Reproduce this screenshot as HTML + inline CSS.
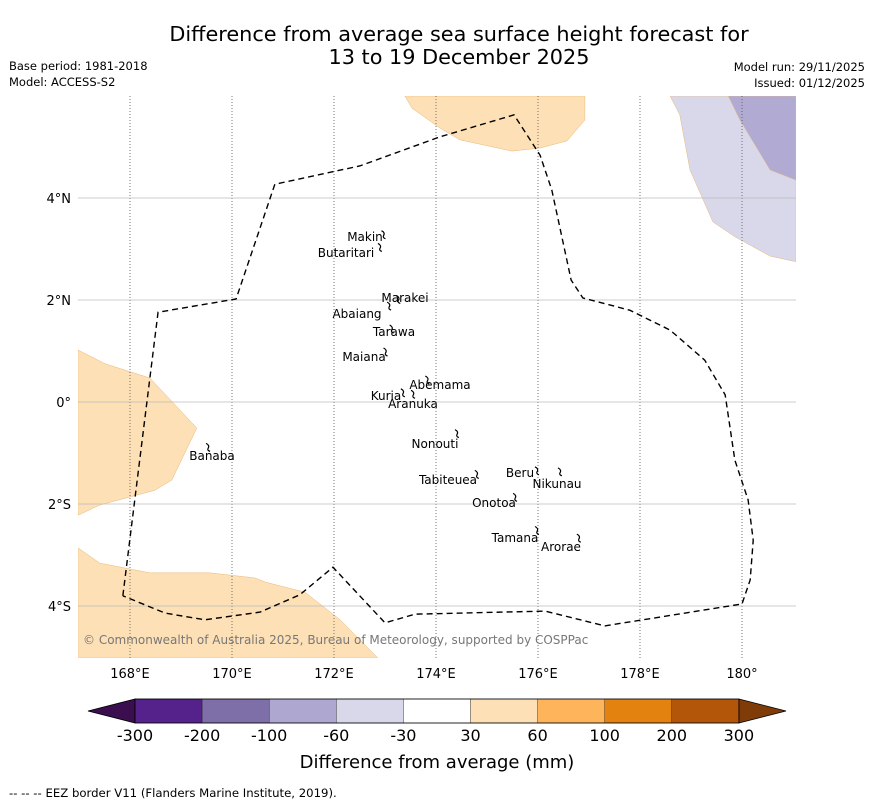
<!DOCTYPE html>
<html><head><meta charset="utf-8"><style>
body{margin:0;background:#fff;font-family:"Liberation Sans","DejaVu Sans",sans-serif;}
</style></head><body>
<svg id="s" width="873" height="804" xmlns="http://www.w3.org/2000/svg" font-family="DejaVu Sans, Liberation Sans, sans-serif">
<rect width="873" height="804" fill="#fff"/>
<text x="459" y="41" font-size="20.8" text-anchor="middle">Difference from average sea surface height forecast for</text>
<text x="459" y="64" font-size="20.8" text-anchor="middle">13 to 19 December 2025</text>
<text x="9" y="70" font-size="11.5">Base period: 1981-2018</text>
<text x="9" y="86" font-size="11.5">Model: ACCESS-S2</text>
<text x="865" y="71" font-size="11.5" text-anchor="end">Model run: 29/11/2025</text>
<text x="865" y="87" font-size="11.5" text-anchor="end">Issued: 01/12/2025</text>
<defs><clipPath id="cp"><rect x="78" y="96" width="718" height="562"/></clipPath></defs>
<g id="map" clip-path="url(#cp)"></g>
<g id="ax"></g>
<g id="cb"></g>
<text x="9" y="797" font-size="11.7">--  --  -- EEZ border V11 (Flanders Marine Institute, 2019).</text>
</svg>
<script>
const lonTicks=[168,170,172,174,176,178,180];
const latTicks=[4,2,0,-2,-4];
const lonLabels=["168°E","170°E","172°E","174°E","176°E","178°E","180°"];
const latLabels=["4°N","2°N","0°","2°S","4°S"];
const eezLon=[167.86,168.55,170.08,170.84,172.51,174.08,175.53,176.04,176.27,176.65,176.88,177.8,178.59,179.27,179.67,179.86,180.12,180.22,180.16,180.0,177.31,176.14,173.59,173.0,171.98,171.33,170.55,169.47,168.69,167.86];
const eezLat=[-3.8,1.76,2.02,4.27,4.63,5.2,5.63,4.84,4.16,2.39,2.04,1.8,1.41,0.82,0.14,-1.14,-1.92,-2.71,-3.49,-3.96,-4.39,-4.1,-4.16,-4.33,-3.24,-3.78,-4.12,-4.27,-4.14,-3.8];
const orangeLeftLon=[166.98,167.51,168.39,169.31,168.82,168.49,167.41,166.98];
const orangeLeftLat=[1.02,0.75,0.47,-0.51,-1.53,-1.73,-2.02,-2.22];
const orangeBotLon=[166.98,167.41,168.39,169.57,170.45,170.65,171.43,172.12,172.86,172.86,166.98];
const orangeBotLat=[-2.86,-3.16,-3.35,-3.35,-3.45,-3.53,-3.73,-4.27,-5.02,-5.02,-5.02];
const orangeTopLon=[173.39,173.53,174.08,174.47,175.49,176.04,176.57,176.92,176.92];
const orangeTopLat=[6.0,5.76,5.37,5.14,4.92,4.98,5.12,5.53,6.0];
const lilacLon=[178.59,178.78,178.98,179.43,179.86,180.55,181.06,181.06];
const lilacLat=[6.0,5.63,4.55,3.53,3.24,2.86,2.75,6.0];
const purpleLon=[179.73,179.96,180.55,181.06,181.06];
const purpleLat=[6.0,5.53,4.55,4.35,6.0];
const islands=["Makin","Butaritari","Marakei","Abaiang","Tarawa","Maiana","Abemama","Kuria","Aranuka","Nonouti","Banaba","Beru","Nikunau","Tabiteuea","Onotoa","Tamana","Arorae"];
const islandLon=[172.99,172.92,173.28,173.1,173.15,173.03,173.85,173.37,173.57,174.43,169.55,176.0,176.45,174.82,175.57,176.0,176.82];
const islandLat=[3.3,3.05,2.03,1.9,1.45,1.0,0.45,0.2,0.17,-0.6,-0.87,-1.33,-1.35,-1.4,-1.85,-2.5,-2.65];
const labelX=[365,346,405,357,394,364,440,386,413,435,212,520,557,448,494,515,561];
const labelY=[241,257,302,318,336,361,389,400,408,448,460,477,488,484,507,542,551];
const cbColors=["#3b0f4f","#54228a","#7f6fa9","#aea7d0","#d8d8ea","#ffffff","#fde0b6","#fdb45b","#e4820f","#b3560a","#7f3c08"];
const cbLabels=["-300","-200","-100","-60","-30","30","60","100","200","300"];
const X=lon=>79+(lon-167)*51, Y=lat=>402-lat*51;
const NS="http://www.w3.org/2000/svg";
function mk(p,t,a){const e=document.createElementNS(NS,t);for(const k in a)e.setAttribute(k,a[k]);p.appendChild(e);return e;}
const map=document.getElementById('map'),ax=document.getElementById('ax'),cb=document.getElementById('cb');
function poly(lo,la,fill,name){const e=mk(map,'polygon',{points:lo.map((v,i)=>X(v)+','+Y(la[i])).join(' '),fill:fill,stroke:'#e8b878','stroke-width':0.5});

}
poly(orangeLeftLon,orangeLeftLat,'#fde0b6','anomaly-west');
poly(orangeBotLon,orangeBotLat,'#fde0b6','anomaly-southwest');
poly(orangeTopLon,orangeTopLat,'#fde0b6','anomaly-north');
poly(lilacLon,lilacLat,'#d8d8ea','anomaly-east-light');
poly(purpleLon,purpleLat,'#b1aad2','anomaly-east-dark');
lonTicks.forEach((v,i)=>{const l=mk(map,'line',{x1:X(v),x2:X(v),y1:96,y2:658,stroke:'#555','stroke-width':0.8,'stroke-dasharray':'1,2'});


const t=mk(ax,'text',{x:X(v),y:678,'font-size':13,'text-anchor':'middle'});t.textContent=lonLabels[i];

});
latTicks.forEach((v,i)=>{const l=mk(map,'line',{x1:78,x2:796,y1:Y(v),y2:Y(v),stroke:'#bbb','stroke-width':0.8});


const t=mk(ax,'text',{x:71,y:Y(v)+5,'font-size':13,'text-anchor':'end'});t.textContent=latLabels[i];

});
const eez=mk(map,'polyline',{points:eezLon.map((v,i)=>X(v)+','+Y(eezLat[i])).join(' '),fill:'none',stroke:'#000','stroke-width':1.4,'stroke-dasharray':'6,4'});


islands.forEach((n,i)=>{const x=X(islandLon[i]),y=Y(islandLat[i]);
const p=mk(map,'path',{d:`M${x-3},${y-3} q4,2 2,5 q-1,2 2,3`,fill:'none',stroke:'#000','stroke-width':1.2});


const t=mk(map,'text',{x:labelX[i],y:labelY[i],'font-size':12,'text-anchor':'middle'});t.textContent=n;

});
const cr=mk(map,'text',{x:83,y:644,'font-size':12,fill:'#777'});cr.textContent='© Commonwealth of Australia 2025, Bureau of Meteorology, supported by COSPPac';


// colorbar
const x0=135,w=67.1,yt=699,h=24;
const lt=mk(cb,'polygon',{points:`88,${yt+h/2} ${x0},${yt} ${x0},${yt+h}`,fill:cbColors[0],stroke:'#000','stroke-width':0.8});


for(let i=1;i<=9;i++){const r=mk(cb,'rect',{x:x0+(i-1)*w,y:yt,width:w,height:h,fill:cbColors[i],stroke:'#000','stroke-width':0.3});

}
const xe=x0+9*w;
const rt=mk(cb,'polygon',{points:`${xe},${yt} ${xe},${yt+h} 786,${yt+h/2}`,fill:cbColors[10],stroke:'#000','stroke-width':0.8});


const ob=mk(cb,'rect',{x:x0,y:yt,width:9*w,height:h,fill:'none',stroke:'#000','stroke-width':0.8});


cbLabels.forEach((s,i)=>{const t=mk(cb,'text',{x:x0+i*w,y:741,'font-size':16,'text-anchor':'middle'});t.textContent=s;

});
const ct=mk(cb,'text',{x:437,y:768,'font-size':18,'text-anchor':'middle'});ct.textContent='Difference from average (mm)';


</script>
</body></html>
